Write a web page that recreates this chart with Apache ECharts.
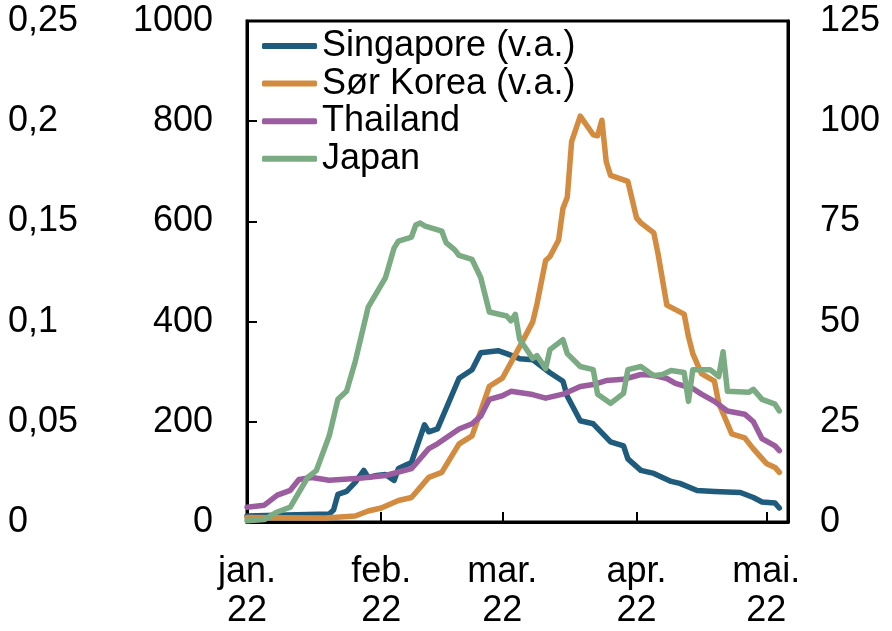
<!DOCTYPE html>
<html>
<head>
<meta charset="utf-8">
<script src="https://cdn.jsdelivr.net/npm/echarts@6/dist/echarts.min.js"></script>
<style>html,body{margin:0;padding:0;background:#fff}#c{width:892px;height:631px}</style>
</head>
<body>
<div id="c"></div>
<script>
// ---- data (per 100 000 inhabitants, 7-day average) ----
const seriesNames = ['Singapore (v.a.)', 'Sør Korea (v.a.)', 'Thailand', 'Japan'];

const sgDates = ['2022-01-01','2022-01-10','2022-01-20','2022-01-21','2022-01-22','2022-01-24','2022-01-26','2022-01-28','2022-01-29','2022-01-31','2022-02-02','2022-02-04','2022-02-05','2022-02-08','2022-02-11','2022-02-12','2022-02-14','2022-02-19','2022-02-22','2022-02-24','2022-02-28','2022-03-02','2022-03-05','2022-03-08','2022-03-12','2022-03-15','2022-03-16','2022-03-19','2022-03-22','2022-03-26','2022-03-29','2022-03-30','2022-04-02','2022-04-05','2022-04-09','2022-04-11','2022-04-15','2022-04-19','2022-04-25','2022-04-28','2022-04-30','2022-05-03','2022-05-04'];
const sgValues = [12,14,16,24,55,61,79,103,89,93,95,83,107,119,194,180,186,287,304,338,342,336,326,324,298,281,251,202,196,160,152,126,103,97,81,77,63,61,59,49,40,38,28];

const krDates = ['2022-01-01','2022-01-19','2022-01-26','2022-01-29','2022-02-01','2022-02-05','2022-02-08','2022-02-12','2022-02-15','2022-02-19','2022-02-22','2022-02-26','2022-03-01','2022-03-04','2022-03-05','2022-03-08','2022-03-09','2022-03-11','2022-03-12','2022-03-14','2022-03-15','2022-03-16','2022-03-17','2022-03-19','2022-03-22','2022-03-23','2022-03-24','2022-03-25','2022-03-26','2022-03-30','2022-04-01','2022-04-02','2022-04-05','2022-04-06','2022-04-08','2022-04-12','2022-04-13','2022-04-14','2022-04-16','2022-04-19','2022-04-20','2022-04-23','2022-04-26','2022-04-28','2022-05-01','2022-05-03','2022-05-04'];
const krValues = [9,8,12,22,28,43,49,89,99,156,172,271,287,334,350,399,435,522,530,563,626,648,759,810,773,771,802,719,692,680,607,597,577,534,433,415,370,336,296,281,237,176,168,146,117,109,99];

const thDates = ['2022-01-01','2022-01-05','2022-01-08','2022-01-11','2022-01-13','2022-01-16','2022-01-20','2022-01-27','2022-02-02','2022-02-08','2022-02-12','2022-02-14','2022-02-19','2022-02-22','2022-02-24','2022-02-26','2022-03-01','2022-03-03','2022-03-08','2022-03-11','2022-03-15','2022-03-19','2022-03-22','2022-03-25','2022-03-29','2022-04-02','2022-04-05','2022-04-08','2022-04-10','2022-04-14','2022-04-16','2022-04-19','2022-04-22','2022-04-26','2022-04-28','2022-04-30','2022-05-03','2022-05-04'];
const thValues = [3.7,4.2,6.7,7.9,10.6,11.1,10.4,10.9,11.6,13.3,18.3,19.5,23.2,24.5,26.4,30.6,31.5,32.6,31.8,30.9,31.9,33.8,34.3,35.3,35.6,36.8,36.6,35.8,34.6,33.3,31.9,30.1,27.7,26.9,25.0,20.8,19.0,17.8];

const jpDates = ['2022-01-01','2022-01-05','2022-01-08','2022-01-11','2022-01-15','2022-01-17','2022-01-20','2022-01-22','2022-01-24','2022-01-26','2022-01-29','2022-01-31','2022-02-02','2022-02-04','2022-02-05','2022-02-08','2022-02-09','2022-02-10','2022-02-11','2022-02-15','2022-02-16','2022-02-18','2022-02-19','2022-02-22','2022-02-24','2022-02-26','2022-03-02','2022-03-03','2022-03-04','2022-03-05','2022-03-08','2022-03-09','2022-03-11','2022-03-12','2022-03-15','2022-03-16','2022-03-19','2022-03-22','2022-03-23','2022-03-26','2022-03-29','2022-03-30','2022-04-02','2022-04-05','2022-04-07','2022-04-09','2022-04-12','2022-04-13','2022-04-14','2022-04-18','2022-04-20','2022-04-21','2022-04-22','2022-04-27','2022-04-28','2022-04-30','2022-05-03','2022-05-04'];
const jpValues = [0.3,0.6,2.5,3.7,11.1,12.8,21.5,30.6,32.6,40.0,53.6,57.3,61.0,68.4,70.1,71.1,74.1,74.6,73.9,72.6,69.7,67.9,66.5,65.5,61.0,52.4,51.4,50.2,51.8,45.6,40.8,41.5,38.3,43.0,45.5,42.0,38.8,38.0,31.9,29.6,32.1,38.0,38.8,36.5,36.8,37.8,37.3,30.1,38.0,38.0,36.3,42.5,32.6,32.4,33.1,30.6,29.4,27.7];

const monthTicks = ['2022-01-01','2022-02-01','2022-03-01','2022-04-01','2022-05-01'];
const monthNames = ['jan.','feb.','mar.','apr.','mai.'];
const yearLabel = '22';
const xMin = '2022-01-01', xMax = '2022-05-06';

// ---- chart ----
const FONT = 'Liberation Sans, Arial, sans-serif';
const FS = 36;
const colors = ['#1f5b7c', '#d38b3f', '#9b5d9f', '#7bab82'];
const ts = s => { const p = s.split('-').map(Number); return Date.UTC(p[0], p[1] - 1, p[2]); };
const zip = (d, v) => d.map((x, i) => [ts(x), v[i]]);

const chart = echarts.init(document.getElementById('c'), null, {renderer: 'canvas'});
const baseLbl = {color: '#000', fontFamily: FONT, fontSize: FS};

chart.setOption({
  animation: false,
  color: colors,
  grid: {left: 247, right: 104, top: 21, bottom: 104, show: true, borderColor: '#000', borderWidth: 3, backgroundColor: 'transparent'},
  legend: {
    orient: 'vertical', left: 262, top: 28, itemGap: 1.6, padding: 0,
    itemWidth: 55, itemHeight: 6, icon: 'roundRect',
    textStyle: Object.assign({}, baseLbl, {lineHeight: 36}),
    data: seriesNames
  },
  xAxis: {
    type: 'value', min: ts(xMin), max: ts(xMax),
    axisLine: {show: true, lineStyle: {color: '#000', width: 3}},
    axisTick: {show: true, inside: true, length: 10, lineStyle: {color: '#000', width: 2},
      customValues: monthTicks.slice(1).map(ts)},
    axisLabel: Object.assign({}, baseLbl, {
      lineHeight: 39, margin: 31, showMinLabel: true, hideOverlap: false,
      customValues: monthTicks.map(ts),
      formatter: v => monthNames[new Date(v).getUTCMonth()] + '\n' + yearLabel
    }),
    splitLine: {show: false}
  },
  yAxis: [
    {
      type: 'value', position: 'left', min: 0, max: 1000, interval: 200,
      axisLine: {show: true, lineStyle: {color: '#000', width: 3}},
      axisTick: {show: true, inside: true, length: 10, lineStyle: {color: '#000', width: 2}},
      axisLabel: Object.assign({}, baseLbl, {margin: 34, formatter: v => String(v)}),
      splitLine: {show: false}
    },
    {
      type: 'value', position: 'right', min: 0, max: 125, interval: 25,
      axisLine: {show: true, lineStyle: {color: '#000', width: 3}},
      axisTick: {show: false},
      axisLabel: Object.assign({}, baseLbl, {margin: 32, align: 'left', formatter: v => String(v)}),
      splitLine: {show: false}
    },
    {
      type: 'value', position: 'left', min: 0, max: 0.25, interval: 0.05,
      axisLine: {show: false}, axisTick: {show: false},
      axisLabel: Object.assign({}, baseLbl, {margin: 239, align: 'left',
        formatter: v => String(+v.toFixed(2)).replace('.', ',')}),
      splitLine: {show: false}
    }
  ],
  series: [
    {name: seriesNames[0], type: 'line', yAxisIndex: 0, data: zip(sgDates, sgValues)},
    {name: seriesNames[1], type: 'line', yAxisIndex: 0, data: zip(krDates, krValues)},
    {name: seriesNames[2], type: 'line', yAxisIndex: 1, data: zip(thDates, thValues)},
    {name: seriesNames[3], type: 'line', yAxisIndex: 1, data: zip(jpDates, jpValues)}
  ].map(s => Object.assign(s, {symbol: 'none', lineStyle: {width: 5.5, cap: 'round', join: 'round'}}))
});
</script>
</body>
</html>
